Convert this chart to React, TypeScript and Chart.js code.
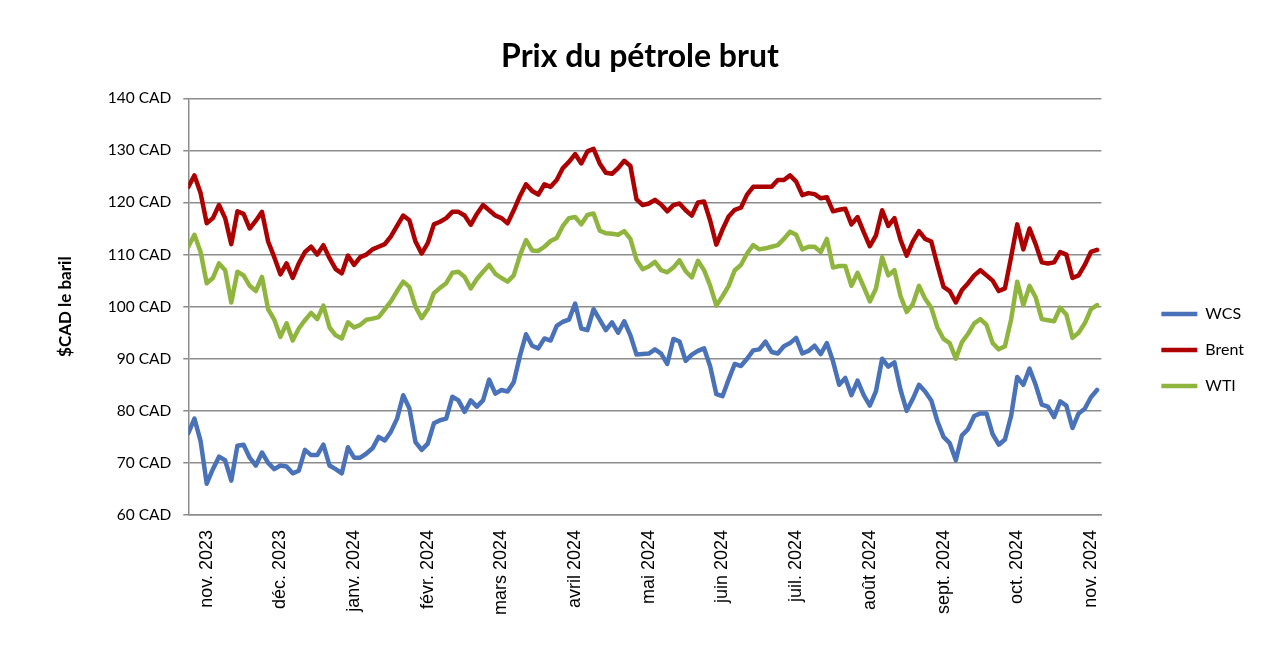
import React, { useEffect, useRef } from 'react';
import { Chart, registerables } from 'chart.js';

Chart.register(...registerables);

// month labels of the date axis and the sample where each one sits
const monthLabels = [
  'nov. 2023', 'déc. 2023', 'janv. 2024', 'févr. 2024', 'mars 2024', 'avril 2024', 'mai 2024',
  'juin 2024', 'juil. 2024', 'août 2024', 'sept. 2024', 'oct. 2024', 'nov. 2024',
];
const monthTicks = [3, 15, 27, 39, 51, 63, 75, 87, 99, 111, 123, 135, 147];

// prices in $CAD per barrel, read roughly every two trading days
const WCS = [
  75.7, 78.5, 74.2, 66.0, 68.8, 71.2, 70.5, 66.6, 73.3, 73.5, 71.0, 69.5, 72.0, 70.0, 68.8, 69.5,
  69.3, 68.0, 68.5, 72.5, 71.5, 71.5, 73.5, 69.5, 68.8, 68.0, 73.0, 71.0, 71.0, 71.8, 72.8, 75.0,
  74.3, 76.0, 78.5, 83.0, 80.5, 74.0, 72.5, 73.7, 77.6, 78.2, 78.5, 82.7, 82.0, 79.8, 82.0, 80.8,
  82.0, 86.0, 83.3, 84.0, 83.7, 85.5, 90.5, 94.7, 92.5, 92.0, 93.9, 93.5, 96.3, 97.1, 97.5, 100.6,
  95.8, 95.5, 99.5, 97.5, 95.5, 97.0, 95.0, 97.2, 94.5, 90.8, 90.9, 91.0, 91.8, 91.0, 89.0, 93.8,
  93.3, 89.6, 90.8, 91.5, 92.0, 88.5, 83.2, 82.8, 86.0, 89.0, 88.6, 90.0, 91.6, 91.8, 93.3, 91.3,
  91.0, 92.4, 93.0, 94.0, 91.0, 91.5, 92.5, 90.9, 93.0, 89.5, 85.0, 86.3, 83.0, 85.8, 83.0, 81.0,
  83.8, 90.0, 88.5, 89.3, 84.0, 80.0, 82.3, 85.0, 83.7, 82.0, 78.0, 75.0, 73.8, 70.5, 75.3, 76.5,
  79.0, 79.5, 79.5, 75.5, 73.5, 74.5, 79.0, 86.5, 85.0, 88.1, 85.0, 81.2, 80.8, 78.8, 81.8, 81.0,
  76.7, 79.5, 80.4, 82.6, 84.0,
];
const Brent = [
  123.0, 125.2, 121.8, 116.0, 117.0, 119.5, 117.0, 112.0, 118.3, 117.8, 115.0, 116.5, 118.2, 112.5, 109.5, 106.2,
  108.3, 105.5, 108.3, 110.5, 111.5, 110.0, 111.8, 109.3, 107.2, 106.4, 109.8, 108.0, 109.5, 110.0, 111.0, 111.5,
  112.0, 113.5, 115.5, 117.5, 116.6, 112.5, 110.2, 112.2, 115.8, 116.3, 117.0, 118.2, 118.2, 117.5, 115.7, 117.8,
  119.5, 118.5, 117.5, 117.0, 116.0, 118.5, 121.2, 123.5, 122.2, 121.5, 123.5, 123.0, 124.3, 126.6, 127.8, 129.3,
  127.5, 129.8, 130.3, 127.5, 125.7, 125.5, 126.6, 128.0, 127.0, 120.6, 119.5, 119.8, 120.5, 119.6, 118.3, 119.5,
  119.8, 118.5, 117.5, 120.0, 120.2, 116.5, 111.9, 114.8, 117.3, 118.6, 119.0, 121.5, 123.0, 123.0, 123.0, 123.0,
  124.3, 124.3, 125.2, 124.0, 121.4, 121.8, 121.6, 120.8, 121.0, 118.3, 118.6, 118.8, 115.8, 117.2, 114.3, 111.6,
  113.7, 118.5, 115.5, 117.0, 112.8, 109.8, 112.5, 114.5, 113.0, 112.5, 108.0, 103.8, 103.0, 100.8, 103.2, 104.5,
  106.0, 107.0, 106.0, 105.0, 103.0, 103.5, 109.5, 115.8, 111.0, 115.0, 112.0, 108.5, 108.3, 108.5, 110.5, 110.0,
  105.5, 106.0, 108.0, 110.5, 110.9,
];
const WTI = [
  111.5, 113.8, 110.5, 104.5, 105.5, 108.3, 107.0, 100.8, 106.7, 106.0, 104.0, 103.0, 105.7, 99.5, 97.5, 94.2,
  96.8, 93.5, 95.8, 97.4, 98.8, 97.6, 100.2, 96.0, 94.5, 93.9, 97.0, 96.0, 96.5, 97.5, 97.7, 98.0,
  99.5, 101.0, 103.0, 104.8, 103.8, 100.0, 97.8, 99.5, 102.6, 103.6, 104.5, 106.5, 106.7, 105.7, 103.5, 105.3,
  106.7, 108.0, 106.3, 105.5, 104.8, 106.0, 109.8, 112.8, 110.8, 110.7, 111.5, 112.6, 113.2, 115.5, 117.0, 117.2,
  115.8, 117.6, 117.9, 114.6, 114.1, 114.0, 113.8, 114.5, 113.0, 109.0, 107.2, 107.7, 108.6, 107.0, 106.6, 107.5,
  108.9, 106.8, 105.6, 108.8, 107.0, 104.0, 100.2, 102.0, 104.0, 107.0, 108.0, 110.2, 111.8, 111.0, 111.2, 111.5,
  111.8, 113.0, 114.4, 113.8, 111.0, 111.5, 111.5, 110.5, 113.0, 107.5, 107.8, 107.8, 104.0, 106.5, 103.8, 101.0,
  103.5, 109.5, 106.0, 107.0, 102.0, 99.0, 100.5, 104.0, 101.5, 99.8, 96.0, 93.8, 93.0, 90.0, 93.2, 94.8,
  96.8, 97.6, 96.5, 93.0, 91.8, 92.4, 97.5, 104.8, 100.3, 104.0, 101.8, 97.6, 97.4, 97.2, 99.8, 98.5,
  94.0, 95.0, 96.8, 99.5, 100.3,
];
const samples = WCS.map((_, i) => i);

const App: React.FC = () => {
  const chartRef = useRef<HTMLCanvasElement>(null);
  const chartInstance = useRef<Chart>();

  useEffect(() => {
    if (!chartRef.current) return;
    const grey = '#8c8c8c';
    chartInstance.current = new Chart(chartRef.current, {
      type: 'line',
      data: {
        labels: samples,
        datasets: [
          { label: 'WCS', data: WCS, borderColor: '#4a72b8', backgroundColor: '#4a72b8' },
          { label: 'Brent', data: Brent, borderColor: '#ad0000', backgroundColor: '#ad0000' },
          { label: 'WTI', data: WTI, borderColor: '#8fb53e', backgroundColor: '#8fb53e' },
        ].map((d) => ({
          ...d,
          borderWidth: 4.5,
          pointRadius: 0,
          tension: 0,
          borderJoinStyle: 'round' as const,
          borderCapStyle: 'round' as const,
        })),
      },
      options: {
        animation: false,
        responsive: true,
        maintainAspectRatio: false,
        layout: { padding: { left: 26, right: 26, top: 0, bottom: 0 } },
        plugins: {
          title: {
            display: true,
            text: 'Prix du pétrole brut',
            color: '#000',
            font: { family: 'Lato', size: 32, weight: 'bold' },
            padding: { top: 37, bottom: 22.9 },
          },
          legend: {
            position: 'right',
            align: 'center',
            title: { display: true, text: '', font: { size: 10 }, padding: { top: 39, bottom: 0 } },
            labels: {
              usePointStyle: true,
              pointStyle: 'line',
              pointStyleWidth: 36,
              padding: 20,
              color: '#000',
              font: { family: 'Lato', size: 16 },
            },
          },
          tooltip: { enabled: false },
        },
        scales: {
          x: {
            type: 'linear',
            min: 0,
            max: 148.7,
            afterFit: (scale) => { scale.height = 134; },
            afterBuildTicks: (scale) => { scale.ticks = monthTicks.map((value) => ({ value })); },
            grid: { display: false, drawTicks: false },
            border: { display: true, color: grey, width: 1.5 },
            ticks: {
              autoSkip: false,
              minRotation: 90,
              maxRotation: 90,
              padding: 15,
              color: '#000',
              font: { family: 'Liberation Sans', size: 18 },
              callback: (value) => monthLabels[monthTicks.indexOf(Number(value))] ?? '',
            },
          },
          y: {
            min: 60,
            max: 140,
            afterFit: (scale) => { scale.width = 162.3; },
            grid: { color: grey, lineWidth: 1.5, tickLength: 5 },
            border: { color: grey, width: 1.5 },
            ticks: {
              stepSize: 10,
              padding: 12,
              color: '#000',
              font: { family: 'Lato', size: 15.5 },
              callback: (value) => `${value} CAD`,
            },
            title: {
              display: true,
              text: '$CAD le baril',
              color: '#000',
              font: { family: 'Lato', size: 17, weight: 'bold' },
              padding: { top: 29, bottom: 0 },
            },
          },
          spacer: {
            position: 'right',
            afterFit: (scale) => { scale.width = 40; },
            grid: { display: false },
            border: { display: false },
            ticks: { display: false },
          },
        },
      },
    });

    return () => {
      if (chartInstance.current) {
        chartInstance.current.destroy();
      }
    };
  }, []);

  return (
    <div style={{ position: 'fixed', left: 0, top: 0, width: 1280, height: 649, background: '#fff' }}>
      <canvas ref={chartRef} />
    </div>
  );
};

export default App;
